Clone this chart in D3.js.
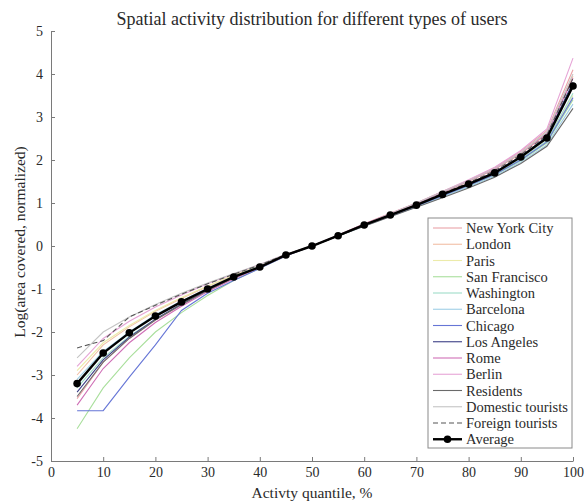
<!DOCTYPE html>
<html>
<head>
<meta charset="utf-8">
<script src="https://cdn.jsdelivr.net/npm/d3@7/dist/d3.min.js"></script>
<style>
  html, body { margin: 0; padding: 0; background: #fff; }
  svg { display: block; font-family: "Liberation Serif", "Times New Roman", serif; }
</style>
</head>
<body>
<svg id="chart" width="584" height="504"></svg>
<script>
// Activity quantiles (%) at which each curve is sampled
const quantiles = [5, 10, 15, 20, 25, 30, 35, 40, 45, 50, 55, 60, 65, 70, 75, 80, 85, 90, 95, 100];

const seriesNames = ["New York City", "London", "Paris", "San Francisco", "Washington",
  "Barcelona", "Chicago", "Los Angeles", "Rome", "Berlin", "Residents",
  "Domestic tourists", "Foreign tourists", "Average"];

// Log(area covered), normalized to 0 at the median
const newYorkCity = [-3.55, -2.70, -2.15, -1.72, -1.37, -1.05, -0.76, -0.50, -0.23, 0, 0.25, 0.52, 0.76, 1.00, 1.27, 1.53, 1.82, 2.20, 2.68, 4.10];
const london = [-3.00, -2.30, -1.88, -1.52, -1.22, -0.94, -0.68, -0.45, -0.20, 0, 0.24, 0.50, 0.74, 0.98, 1.24, 1.50, 1.78, 2.14, 2.60, 3.95];
const paris = [-2.90, -2.25, -1.85, -1.50, -1.20, -0.93, -0.68, -0.45, -0.20, 0, 0.23, 0.47, 0.70, 0.93, 1.17, 1.40, 1.66, 2.00, 2.42, 3.50];
const sanFrancisco = [-4.25, -3.30, -2.60, -2.00, -1.55, -1.15, -0.80, -0.52, -0.23, 0, 0.24, 0.48, 0.70, 0.92, 1.16, 1.40, 1.65, 1.98, 2.40, 3.40];
const washington = [-3.30, -2.60, -2.10, -1.70, -1.36, -1.04, -0.75, -0.50, -0.22, 0, 0.23, 0.47, 0.70, 0.93, 1.17, 1.41, 1.67, 2.02, 2.45, 3.55];
const barcelona = [-3.10, -2.45, -2.00, -1.60, -1.28, -0.98, -0.71, -0.47, -0.21, 0, 0.23, 0.46, 0.69, 0.91, 1.14, 1.37, 1.62, 1.95, 2.35, 3.30];
const chicago = [-3.83, -3.83, -3.05, -2.30, -1.50, -1.10, -0.80, -0.52, -0.23, 0, 0.24, 0.48, 0.70, 0.93, 1.17, 1.41, 1.66, 2.00, 2.42, 3.45];
const losAngeles = [-3.40, -2.65, -2.12, -1.70, -1.35, -1.03, -0.74, -0.50, -0.22, 0, 0.24, 0.49, 0.72, 0.95, 1.20, 1.45, 1.72, 2.08, 2.55, 3.80];
const rome = [-3.70, -2.85, -2.25, -1.78, -1.40, -1.06, -0.76, -0.50, -0.22, 0, 0.25, 0.51, 0.75, 0.99, 1.25, 1.51, 1.79, 2.16, 2.62, 3.90];
const berlin = [-2.80, -2.15, -1.75, -1.42, -1.14, -0.88, -0.65, -0.43, -0.19, 0, 0.24, 0.50, 0.75, 1.00, 1.27, 1.54, 1.83, 2.22, 2.72, 4.37];
const residents = [-3.50, -2.70, -2.15, -1.72, -1.36, -1.03, -0.74, -0.49, -0.21, 0, 0.23, 0.46, 0.68, 0.90, 1.12, 1.35, 1.60, 1.92, 2.32, 3.20];
const domesticTourists = [-2.60, -2.00, -1.65, -1.36, -1.10, -0.86, -0.64, -0.43, -0.19, 0, 0.24, 0.50, 0.75, 1.00, 1.26, 1.52, 1.80, 2.17, 2.65, 4.00];
const foreignTourists = [-2.37, -2.20, -1.65, -1.38, -1.12, -0.88, -0.66, -0.44, -0.20, 0, 0.23, 0.48, 0.72, 0.96, 1.22, 1.47, 1.75, 2.12, 2.58, 3.90];
const average = [-3.20, -2.49, -2.02, -1.63, -1.30, -1.00, -0.72, -0.49, -0.21, 0, 0.24, 0.49, 0.72, 0.95, 1.20, 1.44, 1.70, 2.07, 2.51, 3.72];

const xTicks = [0, 10, 20, 30, 40, 50, 60, 70, 80, 90, 100];
const yTicks = [-5, -4, -3, -2, -1, 0, 1, 2, 3, 4, 5];

const seriesValues = [newYorkCity, london, paris, sanFrancisco, washington, barcelona,
  chicago, losAngeles, rome, berlin, residents, domesticTourists, foreignTourists, average];

// Line appearance per series (same order as seriesNames)
const lineStyles = [
  { color: "#eaa3a8", width: 1.1 },
  { color: "#f2bfa6", width: 1.1 },
  { color: "#ecebaa", width: 1.1 },
  { color: "#a9df9c", width: 1.1 },
  { color: "#9fdcc8", width: 1.1 },
  { color: "#9fcfe6", width: 1.1 },
  { color: "#6676d6", width: 1.1 },
  { color: "#3b3f86", width: 1.1 },
  { color: "#cf6fb6", width: 1.1 },
  { color: "#e6a4d6", width: 1.1 },
  { color: "#6a6a6a", width: 1.1 },
  { color: "#c4c4c4", width: 1.1 },
  { color: "#555555", width: 1.1, dash: "5,3" },
  { color: "#000000", width: 2.4, marker: true }
];

const serif = "'Liberation Serif', 'Times New Roman', serif";
const svg = d3.select("#chart");
const margin = { left: 51, right: 11, top: 31, bottom: 43 };
const W = 584, H = 504;

const x = d3.scaleLinear().domain([0, 100]).range([margin.left, W - margin.right]);
const y = d3.scaleLinear().domain([-5, 5]).range([H - margin.bottom, margin.top]);

const axisColor = "#7a7a7a";
const textColor = "#2a2a2a";

// Axes with inward ticks
const xAxis = svg.append("g")
  .attr("transform", `translate(0,${y(-5)})`)
  .call(d3.axisBottom(x).tickValues(xTicks).tickSizeInner(-4).tickSizeOuter(0).tickPadding(6));
const yAxis = svg.append("g")
  .attr("transform", `translate(${x(0)},0)`)
  .call(d3.axisLeft(y).tickValues(yTicks).tickSizeInner(-4).tickSizeOuter(0).tickPadding(8)
    .tickFormat(d => String(d)));

[xAxis, yAxis].forEach(g => {
  g.attr("font-family", serif).attr("font-size", 14);
  g.select(".domain").attr("stroke", axisColor);
  g.selectAll(".tick line").attr("stroke", axisColor);
  g.selectAll(".tick text").attr("fill", textColor);
});

// Curves
const line = d3.line().x((d, i) => x(quantiles[i])).y(d => y(d));
const curves = svg.append("g");
seriesValues.forEach((vals, k) => {
  const st = lineStyles[k];
  curves.append("path")
    .datum(vals)
    .attr("d", line)
    .attr("fill", "none")
    .attr("stroke", st.color)
    .attr("stroke-width", st.width)
    .attr("stroke-dasharray", st.dash || null);
  if (st.marker) {
    curves.selectAll(null)
      .data(vals)
      .enter().append("circle")
      .attr("cx", (d, i) => x(quantiles[i]))
      .attr("cy", d => y(d))
      .attr("r", 3.8)
      .attr("fill", st.color);
  }
});

// Title and axis labels
svg.append("text")
  .attr("x", (x(0) + x(100)) / 2).attr("y", 25)
  .attr("text-anchor", "middle")
  .attr("fill", textColor)
  .style("font-family", serif)
  .style("font-size", "18px")
  .text("Spatial activity distribution for different types of users");

svg.append("text")
  .attr("x", (x(0) + x(100)) / 2).attr("y", 498)
  .attr("text-anchor", "middle")
  .attr("fill", textColor)
  .style("font-family", serif)
  .style("font-size", "15.5px")
  .text("Activty quantile, %");

svg.append("text")
  .attr("transform", `translate(25,${(y(-5) + y(5)) / 2 - 4}) rotate(-90)`)
  .attr("text-anchor", "middle")
  .attr("fill", textColor)
  .style("font-family", serif)
  .style("font-size", "15.5px")
  .text("Log(area covered, normalized)");

// Legend
const lg = svg.append("g");
const lgX = 428, lgY = 218, lgW = 144, lgH = 230, rowH = 16.25, firstRow = 228;
lg.append("rect")
  .attr("x", lgX).attr("y", lgY).attr("width", lgW).attr("height", lgH)
  .attr("fill", "#fff").attr("stroke", "#8a8a8a").attr("stroke-width", 1);

seriesNames.forEach((name, k) => {
  const st = lineStyles[k];
  const cy = firstRow + k * rowH;
  lg.append("line")
    .attr("x1", 433).attr("x2", 462).attr("y1", cy).attr("y2", cy)
    .attr("stroke", st.color).attr("stroke-width", st.width)
    .attr("stroke-dasharray", st.dash || null);
  if (st.marker) {
    lg.append("circle").attr("cx", 447.5).attr("cy", cy).attr("r", 3.8).attr("fill", st.color);
  }
  lg.append("text")
    .attr("x", 466).attr("y", cy).attr("dy", "0.35em")
    .attr("fill", textColor)
    .style("font-family", serif)
    .style("font-size", "14.5px")
    .text(name);
});
</script>
</body>
</html>
